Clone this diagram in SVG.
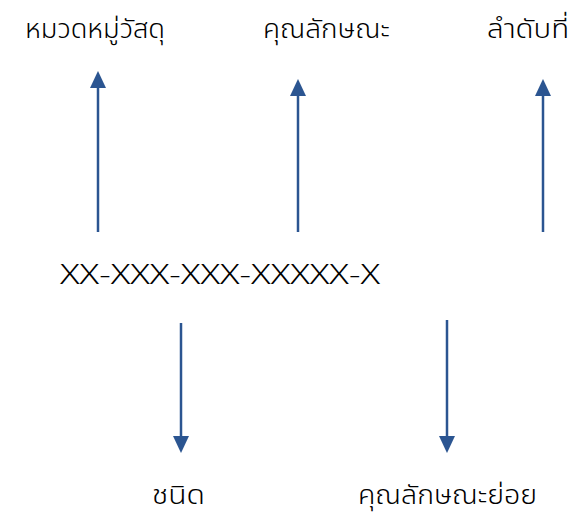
<svg xmlns="http://www.w3.org/2000/svg" width="577" height="512" viewBox="0 0 577 512">
<defs>
<style>
.t{font-family:"Noto Sans Thai","Noto Sans","DejaVu Sans","Liberation Sans",sans-serif;font-size:26.5px;fill:#000;font-weight:300}
.c{font-family:"Noto Sans","Liberation Sans",sans-serif;font-size:27px;fill:#000;font-weight:300}
.a{stroke:#2B5591;stroke-width:2.5;fill:none}
.h{fill:#2B5591}
</style>
</defs>
<rect width="577" height="512" fill="#fff"/>
<g id="n1"><text class="t" x="25" y="38" textLength="140" lengthAdjust="spacingAndGlyphs">หมวดหมู่วัสดุ</text></g>
<g id="n2"><text class="t" x="263" y="38" textLength="127" lengthAdjust="spacingAndGlyphs">คุณลักษณะ</text></g>
<g id="n3"><text class="t" x="487" y="38" textLength="82" lengthAdjust="spacingAndGlyphs">ลำดับที่</text></g>
<g id="code"><text class="c" x="60" y="284" textLength="320" lengthAdjust="spacingAndGlyphs">XX-XXX-XXX-XXXXX-X</text></g>
<g id="n4"><text class="t" x="152" y="504" textLength="53" lengthAdjust="spacingAndGlyphs">ชนิด</text></g>
<g id="n5"><text class="t" x="358" y="504" textLength="179" lengthAdjust="spacingAndGlyphs">คุณลักษณะย่อย</text></g>
<g id="connectors">
<line class="a" x1="98" y1="232" x2="98" y2="86"/>
<polygon class="h" points="98,71 90,88 106,88"/>
<line class="a" x1="298" y1="232" x2="298" y2="94"/>
<polygon class="h" points="298,79 290,96 306,96"/>
<line class="a" x1="543" y1="232" x2="543" y2="94"/>
<polygon class="h" points="543,79 535,96 551,96"/>
<line class="a" x1="181" y1="323" x2="181" y2="438"/>
<polygon class="h" points="181,453 173,436 189,436"/>
<line class="a" x1="447" y1="320" x2="447" y2="438"/>
<polygon class="h" points="447,453 439,436 455,436"/>
</g>
</svg>
